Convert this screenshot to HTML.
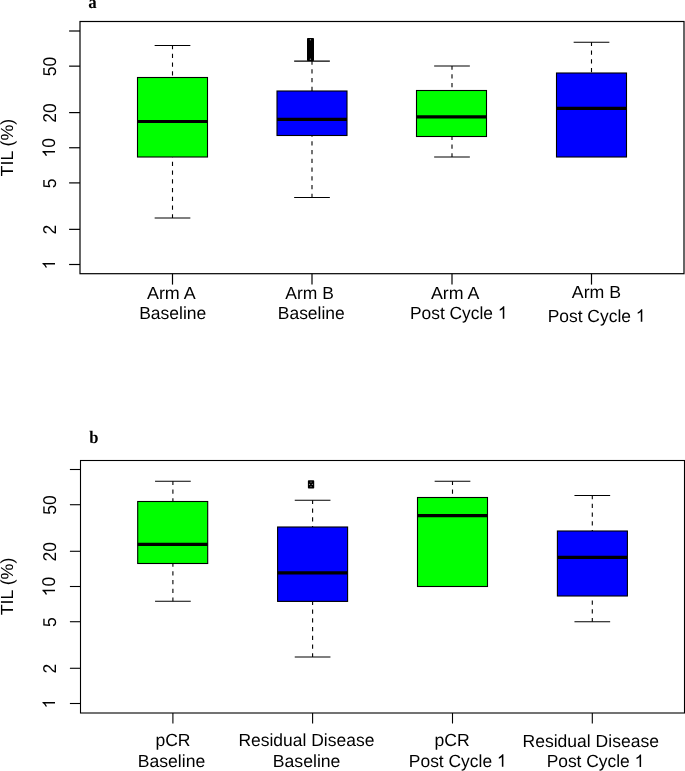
<!DOCTYPE html>
<html><head><meta charset="utf-8"><style>
html,body{margin:0;padding:0;background:#fff;}
svg{display:block;}
text{font-family:"Liberation Sans",sans-serif;fill:#000;text-rendering:geometricPrecision;}
text.lab{font-family:"Liberation Serif",serif;font-weight:bold;font-size:17.5px;}
svg{will-change:transform;}
</style></head><body>
<svg width="685" height="771" viewBox="0 0 685 771">
<rect width="685" height="771" fill="#fff"/>
<rect x="80.0" y="21.5" width="604.0" height="252.2" fill="none" stroke="#000" stroke-width="1.2"/>
<line x1="69.1" y1="264.5" x2="80.0" y2="264.5" stroke="#000" stroke-width="1.2"/>
<g transform="translate(55.00,264.60) rotate(-90)">
<path d="M763,0 L583,0 L583,1147 Q518,1085 420,1028 Q320,969 223,933 L223,1104 Q370,1173 480,1268 Q590,1363 631,1466 L763,1466 Z" transform="translate(-4.866,0.000) scale(0.008545,-0.008545)"/>
</g>
<line x1="69.1" y1="229.35474800623018" x2="80.0" y2="229.35474800623018" stroke="#000" stroke-width="1.2"/>
<g transform="translate(55.70,229.75) rotate(-90)">
<text x="0" y="0" transform="scale(1,1.06)" text-anchor="middle" font-size="17.5">2</text>
</g>
<line x1="69.1" y1="182.89525199376982" x2="80.0" y2="182.89525199376982" stroke="#000" stroke-width="1.2"/>
<g transform="translate(55.70,183.30) rotate(-90)">
<text x="0" y="0" transform="scale(1,1.06)" text-anchor="middle" font-size="17.5">5</text>
</g>
<line x1="69.1" y1="147.75" x2="80.0" y2="147.75" stroke="#000" stroke-width="1.2"/>
<g transform="translate(55.00,147.85) rotate(-90)">
<path d="M763,0 L583,0 L583,1147 Q518,1085 420,1028 Q320,969 223,933 L223,1104 Q370,1173 480,1268 Q590,1363 631,1466 L763,1466 Z" transform="translate(-9.733,0.000) scale(0.008545,-0.008545)"/>
<text x="0" y="0" transform="scale(1,1.06)" font-size="17.5">0</text>
</g>
<line x1="69.1" y1="112.60474800623018" x2="80.0" y2="112.60474800623018" stroke="#000" stroke-width="1.2"/>
<g transform="translate(55.70,113.00) rotate(-90)">
<text x="0" y="0" transform="scale(1,1.06)" text-anchor="middle" font-size="17.5">20</text>
</g>
<line x1="69.1" y1="66.14525199376982" x2="80.0" y2="66.14525199376982" stroke="#000" stroke-width="1.2"/>
<g transform="translate(55.70,66.55) rotate(-90)">
<text x="0" y="0" transform="scale(1,1.06)" text-anchor="middle" font-size="17.5">50</text>
</g>
<line x1="69.1" y1="31.0" x2="80.0" y2="31.0" stroke="#000" stroke-width="1.2"/>
<text x="0" y="0" transform="translate(13.2,147.6) rotate(-90)" text-anchor="middle" font-size="17.5" textLength="57.7" lengthAdjust="spacingAndGlyphs">TIL (%)</text>
<line x1="172.5" y1="273.7" x2="172.5" y2="284.59999999999997" stroke="#000" stroke-width="1.2"/>
<line x1="312.0" y1="273.7" x2="312.0" y2="284.59999999999997" stroke="#000" stroke-width="1.2"/>
<line x1="452.0" y1="273.7" x2="452.0" y2="284.59999999999997" stroke="#000" stroke-width="1.2"/>
<line x1="591.5" y1="273.7" x2="591.5" y2="284.59999999999997" stroke="#000" stroke-width="1.2"/>
<line x1="172.5" y1="45.5" x2="172.5" y2="77.5" stroke="#000" stroke-width="1.1" stroke-dasharray="4.2 4.55" stroke-dashoffset="0.5"/>
<line x1="172.5" y1="218.0" x2="172.5" y2="157.0" stroke="#000" stroke-width="1.1" stroke-dasharray="4.2 4.55" stroke-dashoffset="0.5"/>
<rect x="137.5" y="77.5" width="70.0" height="79.5" fill="#00ff00" stroke="#000" stroke-width="1.1"/>
<line x1="137.5" y1="121.5" x2="207.5" y2="121.5" stroke="#000" stroke-width="3.2"/>
<line x1="154.65" y1="45.5" x2="190.35" y2="45.5" stroke="#000" stroke-width="1.1"/>
<line x1="154.65" y1="218.0" x2="190.35" y2="218.0" stroke="#000" stroke-width="1.1"/>
<line x1="312.0" y1="61.1" x2="312.0" y2="91.0" stroke="#000" stroke-width="1.1" stroke-dasharray="4.2 4.55" stroke-dashoffset="0.5"/>
<line x1="312.0" y1="197.5" x2="312.0" y2="135.5" stroke="#000" stroke-width="1.1" stroke-dasharray="4.2 4.55" stroke-dashoffset="0.5"/>
<rect x="277.0" y="91.0" width="70.0" height="44.5" fill="#0000ff" stroke="#000" stroke-width="1.1"/>
<line x1="277.0" y1="119.4" x2="347.0" y2="119.4" stroke="#000" stroke-width="3.2"/>
<line x1="294.15" y1="61.1" x2="329.85" y2="61.1" stroke="#000" stroke-width="1.1"/>
<line x1="294.15" y1="197.5" x2="329.85" y2="197.5" stroke="#000" stroke-width="1.1"/>
<rect x="307.0" y="37.9" width="7.0" height="23.1" rx="0.8" fill="#000"/>
<circle cx="310.4" cy="39.8" r="0.7" fill="#888"/>
<circle cx="310.4" cy="59.2" r="0.7" fill="#888"/>
<line x1="452.0" y1="66.0" x2="452.0" y2="90.5" stroke="#000" stroke-width="1.1" stroke-dasharray="4.2 4.55" stroke-dashoffset="0.5"/>
<line x1="452.0" y1="157.0" x2="452.0" y2="136.5" stroke="#000" stroke-width="1.1" stroke-dasharray="4.2 4.55" stroke-dashoffset="0.5"/>
<rect x="416.5" y="90.5" width="70.0" height="46.0" fill="#00ff00" stroke="#000" stroke-width="1.1"/>
<line x1="416.5" y1="116.8" x2="486.5" y2="116.8" stroke="#000" stroke-width="3.2"/>
<line x1="434.15" y1="66.0" x2="469.85" y2="66.0" stroke="#000" stroke-width="1.1"/>
<line x1="434.15" y1="157.0" x2="469.85" y2="157.0" stroke="#000" stroke-width="1.1"/>
<line x1="591.5" y1="42.3" x2="591.5" y2="73.0" stroke="#000" stroke-width="1.1" stroke-dasharray="4.2 4.55" stroke-dashoffset="0.5"/>
<rect x="556.5" y="73.0" width="70.0" height="84.0" fill="#0000ff" stroke="#000" stroke-width="1.1"/>
<line x1="556.5" y1="108.4" x2="626.5" y2="108.4" stroke="#000" stroke-width="3.2"/>
<line x1="573.65" y1="42.3" x2="609.35" y2="42.3" stroke="#000" stroke-width="1.1"/>
<text x="146.95" y="299.0" font-size="17.5" textLength="48.80" lengthAdjust="spacingAndGlyphs">Arm A</text>
<text x="139.20" y="318.8" font-size="17.5" textLength="67.13" lengthAdjust="spacingAndGlyphs">Baseline</text>
<text x="285.30" y="299.2" font-size="17.5" textLength="48.51" lengthAdjust="spacingAndGlyphs">Arm B</text>
<text x="277.80" y="318.9" font-size="17.5" textLength="66.92" lengthAdjust="spacingAndGlyphs">Baseline</text>
<text x="431.00" y="299.1" font-size="17.5" textLength="48.45" lengthAdjust="spacingAndGlyphs">Arm A</text>
<text x="409.97" y="318.7" font-size="17.5" textLength="83.03" lengthAdjust="spacingAndGlyphs">Post Cycle</text>
<path d="M763,0 L583,0 L583,1147 Q518,1085 420,1028 Q320,969 223,933 L223,1104 Q370,1173 480,1268 Q590,1363 631,1466 L763,1466 Z" transform="translate(497.828,318.700) scale(0.008482,-0.008545)"/>
<text x="571.80" y="298.0" font-size="17.5" textLength="49.33" lengthAdjust="spacingAndGlyphs">Arm B</text>
<text x="547.67" y="321.8" font-size="17.5" textLength="83.29" lengthAdjust="spacingAndGlyphs">Post Cycle</text>
<path d="M763,0 L583,0 L583,1147 Q518,1085 420,1028 Q320,969 223,933 L223,1104 Q370,1173 480,1268 Q590,1363 631,1466 L763,1466 Z" transform="translate(635.807,321.800) scale(0.008510,-0.008545)"/>
<rect x="80.5" y="460.5" width="604.0" height="252.5" fill="none" stroke="#000" stroke-width="1.1"/>
<line x1="69.9" y1="703.5" x2="80.5" y2="703.5" stroke="#000" stroke-width="1.1"/>
<g transform="translate(55.00,703.60) rotate(-90)">
<path d="M763,0 L583,0 L583,1147 Q518,1085 420,1028 Q320,969 223,933 L223,1104 Q370,1173 480,1268 Q590,1363 631,1466 L763,1466 Z" transform="translate(-4.866,0.000) scale(0.008545,-0.008545)"/>
</g>
<line x1="69.9" y1="668.2794905073142" x2="80.5" y2="668.2794905073142" stroke="#000" stroke-width="1.1"/>
<g transform="translate(55.70,668.68) rotate(-90)">
<text x="0" y="0" transform="scale(1,1.06)" text-anchor="middle" font-size="17.5">2</text>
</g>
<line x1="69.9" y1="621.7205094926858" x2="80.5" y2="621.7205094926858" stroke="#000" stroke-width="1.1"/>
<g transform="translate(55.70,622.12) rotate(-90)">
<text x="0" y="0" transform="scale(1,1.06)" text-anchor="middle" font-size="17.5">5</text>
</g>
<line x1="69.9" y1="586.5" x2="80.5" y2="586.5" stroke="#000" stroke-width="1.1"/>
<g transform="translate(55.00,586.60) rotate(-90)">
<path d="M763,0 L583,0 L583,1147 Q518,1085 420,1028 Q320,969 223,933 L223,1104 Q370,1173 480,1268 Q590,1363 631,1466 L763,1466 Z" transform="translate(-9.733,0.000) scale(0.008545,-0.008545)"/>
<text x="0" y="0" transform="scale(1,1.06)" font-size="17.5">0</text>
</g>
<line x1="69.9" y1="551.2794905073142" x2="80.5" y2="551.2794905073142" stroke="#000" stroke-width="1.1"/>
<g transform="translate(55.70,551.68) rotate(-90)">
<text x="0" y="0" transform="scale(1,1.06)" text-anchor="middle" font-size="17.5">20</text>
</g>
<line x1="69.9" y1="504.7205094926858" x2="80.5" y2="504.7205094926858" stroke="#000" stroke-width="1.1"/>
<g transform="translate(55.70,505.12) rotate(-90)">
<text x="0" y="0" transform="scale(1,1.06)" text-anchor="middle" font-size="17.5">50</text>
</g>
<line x1="69.9" y1="469.5" x2="80.5" y2="469.5" stroke="#000" stroke-width="1.1"/>
<text x="0" y="0" transform="translate(13.2,586.5) rotate(-90)" text-anchor="middle" font-size="17.5" textLength="57.7" lengthAdjust="spacingAndGlyphs">TIL (%)</text>
<line x1="172.9" y1="713.0" x2="172.9" y2="723.5" stroke="#000" stroke-width="1.1"/>
<line x1="312.6" y1="713.0" x2="312.6" y2="723.5" stroke="#000" stroke-width="1.1"/>
<line x1="452.5" y1="713.0" x2="452.5" y2="723.5" stroke="#000" stroke-width="1.1"/>
<line x1="592.3" y1="713.0" x2="592.3" y2="723.5" stroke="#000" stroke-width="1.1"/>
<line x1="172.9" y1="481.2" x2="172.9" y2="501.5" stroke="#000" stroke-width="1.1" stroke-dasharray="4.2 4.55" stroke-dashoffset="0.5"/>
<line x1="172.9" y1="601.3" x2="172.9" y2="563.5" stroke="#000" stroke-width="1.1" stroke-dasharray="4.2 4.55" stroke-dashoffset="0.5"/>
<rect x="137.7" y="501.5" width="70.0" height="62.0" fill="#00ff00" stroke="#000" stroke-width="1.1"/>
<line x1="137.7" y1="544.4" x2="207.7" y2="544.4" stroke="#000" stroke-width="3.2"/>
<line x1="155.05" y1="481.2" x2="190.75" y2="481.2" stroke="#000" stroke-width="1.1"/>
<line x1="155.05" y1="601.3" x2="190.75" y2="601.3" stroke="#000" stroke-width="1.1"/>
<line x1="312.6" y1="500.3" x2="312.6" y2="527.0" stroke="#000" stroke-width="1.1" stroke-dasharray="4.2 4.55" stroke-dashoffset="0.5"/>
<line x1="312.6" y1="657.0" x2="312.6" y2="601.4" stroke="#000" stroke-width="1.1" stroke-dasharray="4.2 4.55" stroke-dashoffset="0.5"/>
<rect x="277.6" y="527.0" width="70.0" height="74.39999999999998" fill="#0000ff" stroke="#000" stroke-width="1.1"/>
<line x1="277.6" y1="572.8" x2="347.6" y2="572.8" stroke="#000" stroke-width="3.2"/>
<line x1="294.75" y1="500.3" x2="330.45000000000005" y2="500.3" stroke="#000" stroke-width="1.1"/>
<line x1="294.75" y1="657.0" x2="330.45000000000005" y2="657.0" stroke="#000" stroke-width="1.1"/>
<rect x="307.9" y="480.2" width="6.300000000000011" height="8.400000000000034" rx="0.8" fill="#000"/>
<circle cx="311.0" cy="482.1" r="0.7" fill="#888"/>
<circle cx="309.5" cy="484.4" r="0.7" fill="#888"/>
<circle cx="312.4" cy="484.4" r="0.7" fill="#888"/>
<circle cx="311.0" cy="486.6" r="0.7" fill="#888"/>
<line x1="452.5" y1="481.2" x2="452.5" y2="497.5" stroke="#000" stroke-width="1.1" stroke-dasharray="4.2 4.55" stroke-dashoffset="0.5"/>
<rect x="417.5" y="497.5" width="70.0" height="89.0" fill="#00ff00" stroke="#000" stroke-width="1.1"/>
<line x1="417.5" y1="515.7" x2="487.5" y2="515.7" stroke="#000" stroke-width="3.2"/>
<line x1="434.65" y1="481.2" x2="470.35" y2="481.2" stroke="#000" stroke-width="1.1"/>
<line x1="592.3" y1="495.5" x2="592.3" y2="531.0" stroke="#000" stroke-width="1.1" stroke-dasharray="4.2 4.55" stroke-dashoffset="0.5"/>
<line x1="592.3" y1="621.7" x2="592.3" y2="596.0" stroke="#000" stroke-width="1.1" stroke-dasharray="4.2 4.55" stroke-dashoffset="0.5"/>
<rect x="557.4" y="531.0" width="70.0" height="65.0" fill="#0000ff" stroke="#000" stroke-width="1.1"/>
<line x1="557.4" y1="557.4" x2="627.4" y2="557.4" stroke="#000" stroke-width="3.2"/>
<line x1="574.4499999999999" y1="495.5" x2="610.15" y2="495.5" stroke="#000" stroke-width="1.1"/>
<line x1="574.4499999999999" y1="621.7" x2="610.15" y2="621.7" stroke="#000" stroke-width="1.1"/>
<text x="155.40" y="746.1" font-size="17.5" textLength="35.11" lengthAdjust="spacingAndGlyphs">pCR</text>
<text x="137.79" y="767.0" font-size="17.5" textLength="67.44" lengthAdjust="spacingAndGlyphs">Baseline</text>
<text x="238.40" y="746.4" font-size="17.5" textLength="135.98" lengthAdjust="spacingAndGlyphs">Residual Disease</text>
<text x="272.79" y="767.0" font-size="17.5" textLength="67.64" lengthAdjust="spacingAndGlyphs">Baseline</text>
<text x="434.59" y="746.4" font-size="17.5" textLength="35.22" lengthAdjust="spacingAndGlyphs">pCR</text>
<text x="408.87" y="766.7" font-size="17.5" textLength="83.21" lengthAdjust="spacingAndGlyphs">Post Cycle</text>
<path d="M763,0 L583,0 L583,1147 Q518,1085 420,1028 Q320,969 223,933 L223,1104 Q370,1173 480,1268 Q590,1363 631,1466 L763,1466 Z" transform="translate(496.914,766.700) scale(0.008501,-0.008545)"/>
<text x="522.50" y="746.6" font-size="17.5" textLength="136.48" lengthAdjust="spacingAndGlyphs">Residual Disease</text>
<text x="546.67" y="767.0" font-size="17.5" textLength="83.12" lengthAdjust="spacingAndGlyphs">Post Cycle</text>
<path d="M763,0 L583,0 L583,1147 Q518,1085 420,1028 Q320,969 223,933 L223,1104 Q370,1173 480,1268 Q590,1363 631,1466 L763,1466 Z" transform="translate(634.621,767.000) scale(0.008492,-0.008545)"/>
<text x="88.2" y="8.4" class="lab" textLength="8.45" lengthAdjust="spacingAndGlyphs">a</text>
<text x="89.2" y="443" class="lab" textLength="9.2" lengthAdjust="spacingAndGlyphs">b</text>
</svg></body></html>
